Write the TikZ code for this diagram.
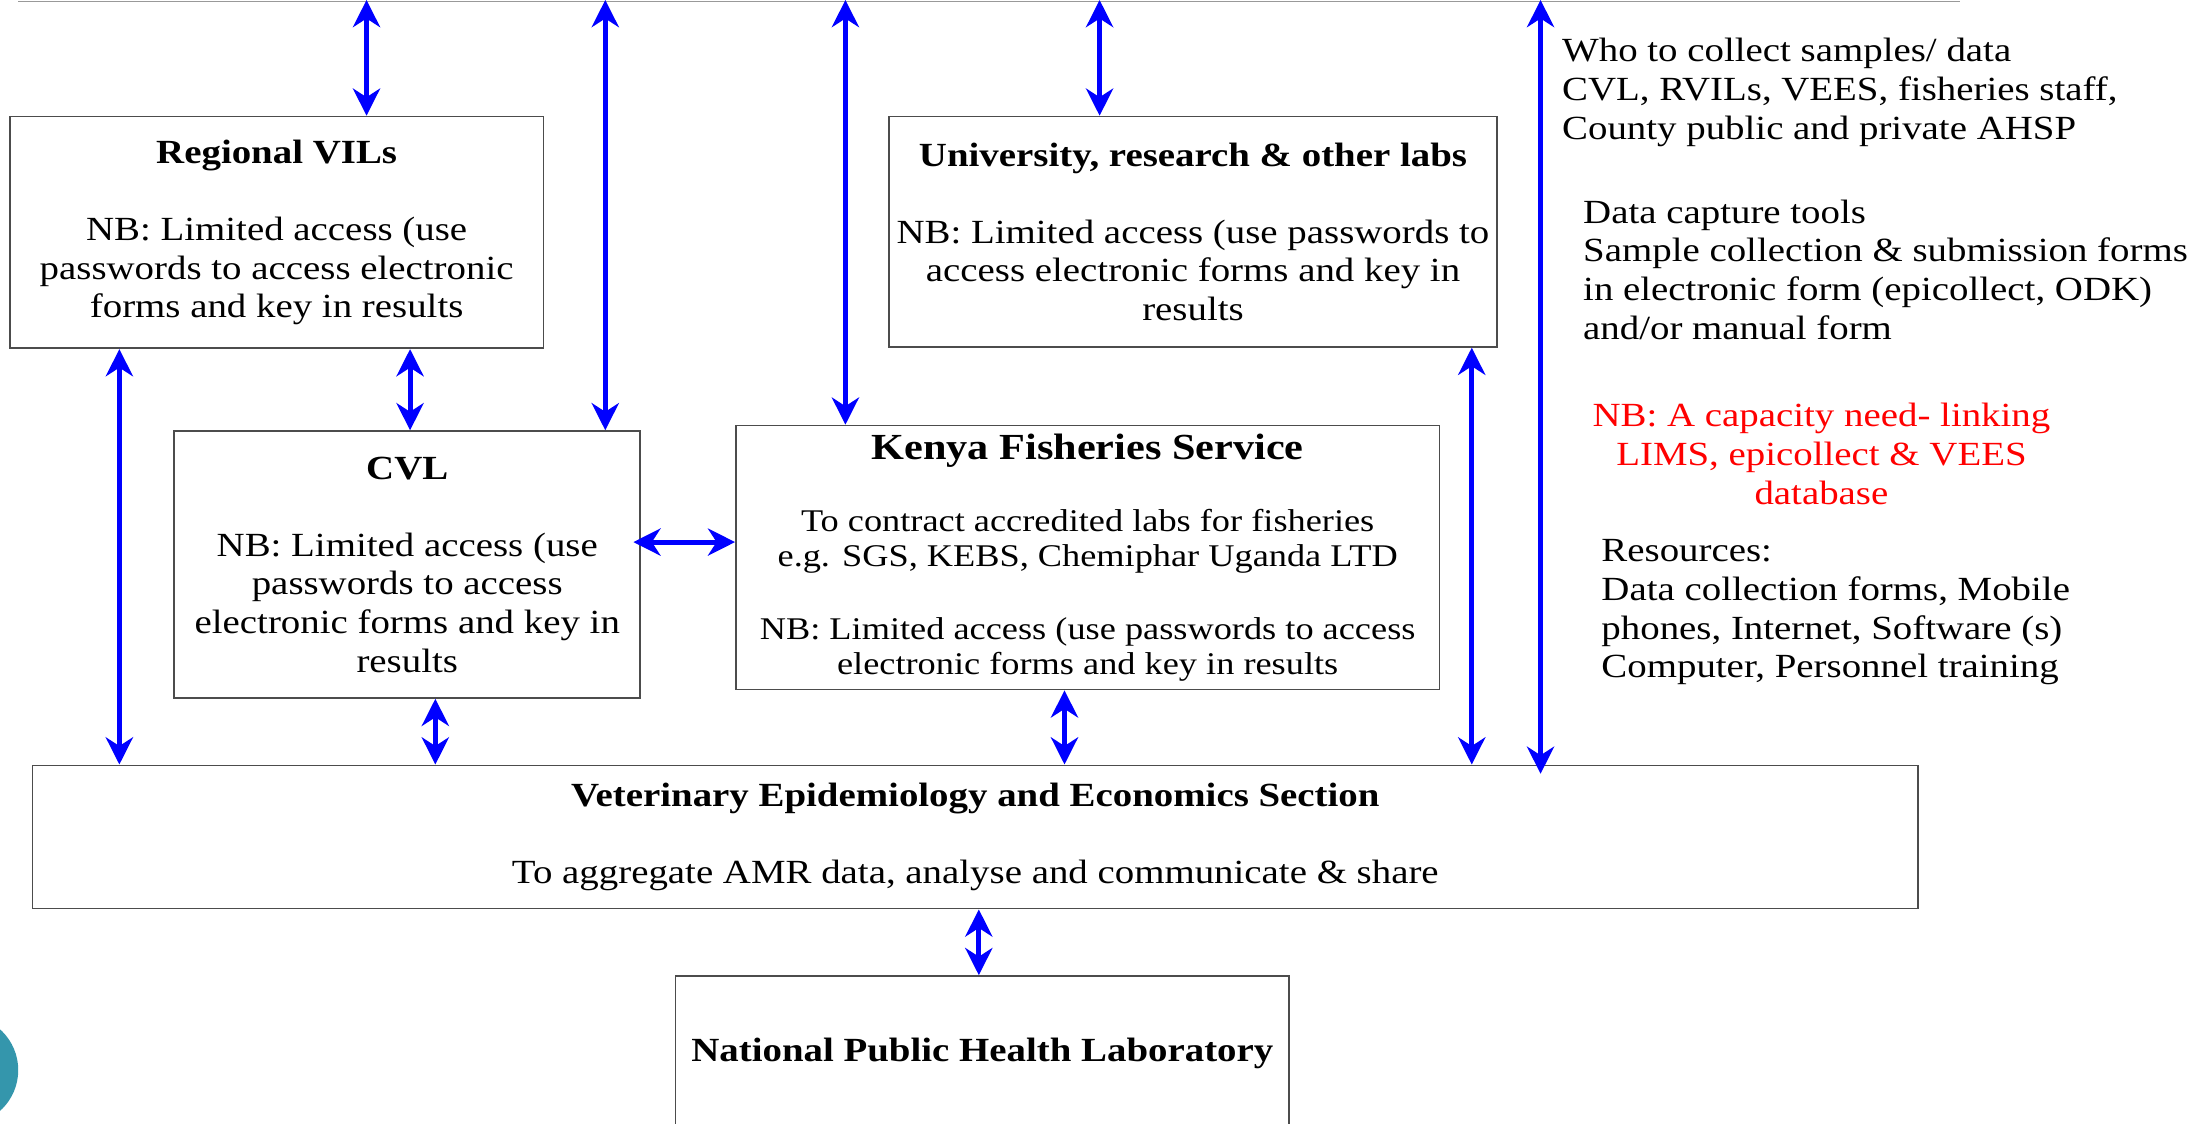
\documentclass[tikz,border=0pt]{standalone}
\usepackage{fontspec}
\setmainfont{Liberation Serif}[FakeStretch=1.15]
\usetikzlibrary{arrows.meta}
\definecolor{slideteal}{RGB}{52,150,172}

\begin{document}
\begin{tikzpicture}[x=0.02cm,y=-0.02cm]
\tikzstyle{every node}+=[inner sep=0pt, font=\fontsize{13.7}{15.65}\selectfont]
\tikzstyle{box}=[draw=black!70, line width=0.7pt, align=center]
\tikzstyle{link}=[blue, line width=2pt, {Stealth[length=11pt,width=11pt,inset=3.5pt]}-{Stealth[length=11pt,width=11pt,inset=3.5pt]}]
\tikzstyle{note}=[align=left, anchor=north west]
\useasboundingbox (0,0) rectangle (1568,800);
\clip (0,0) rectangle (1568,800);
\fill [slideteal] (-26,762) circle [radius=0.78cm];
\draw [black!40, line width=0.5pt] (13,1) -- (1396,1);
\node [box, minimum width=7.6cm, minimum height=3.3cm] (rvil) at (197,165.5)
  {\textbf{Regional VILs}\\[\baselineskip]NB: Limited access (use\\passwords to access electronic\\forms and key in results};
\node [box, minimum width=8.66cm, minimum height=3.28cm] (univ) at (849.5,165)
  {\textbf{University, research \& other labs}\\[\baselineskip]NB: Limited access (use passwords to\\access electronic forms and key in\\results};
\node [box, minimum width=6.64cm, minimum height=3.8cm] (cvl) at (290,402)
  {\textbf{CVL}\\[\baselineskip]NB: Limited access (use\\passwords to access\\electronic forms and key in\\results};
\node [box, minimum width=10.02cm, minimum height=3.76cm, font=\fontsize{12.8}{14.2}\selectfont] (kfs) at (774.5,397)
  {{\fontsize{14.9}{14.2}\selectfont\bfseries Kenya Fisheries Service}\\[15.3pt]To contract accredited labs for fisheries\\e.g. SGS, KEBS, Chemiphar Uganda LTD\\[15.3pt]NB: Limited access (use passwords to access\\electronic forms and key in results};
\node [box, minimum width=26.86cm, minimum height=2.04cm] (vees) at (694.5,596)
  {\textbf{Veterinary Epidemiology and Economics Section}\\[\baselineskip]To aggregate AMR data, analyse and communicate \& share};
\node [box, minimum width=8.74cm, minimum height=2.2cm] (nphl) at (699.5,750)
  {\textbf{National Public Health Laboratory}};
\node [note] (who) at (1112,27) {Who to collect samples/ data\\CVL, RVILs, VEES, fisheries staff,\\County public and private AHSP};
\node [note] (tools) at (1127,142) {Data capture tools\\Sample collection \& submission forms\\in electronic form (epicollect, ODK)\\and/or manual form};
\node [align=center, anchor=north, red] (need) at (1297,287) {NB: A capacity need- linking\\LIMS, epicollect \& VEES\\database};
\node [note] (res) at (1140,384) {Resources:\\Data collection forms, Mobile\\phones, Internet, Software (s)\\Computer, Personnel training};
\coordinate (t1) at (261,0);
\coordinate (t2) at (431,0);
\coordinate (t3) at (602,0);
\coordinate (t4) at (783,0);
\coordinate (t5) at (1097,0);
\coordinate (v5) at (1097,551);
\coordinate (c1) at (85,0);
\coordinate (c2) at (292,0);
\coordinate (c3) at (310,0);
\coordinate (c4) at (758,0);
\coordinate (c5) at (1048,0);
\coordinate (c6) at (697,0);
\coordinate (h) at (451,386);
\draw [link] (t1) -- (t1 |- rvil.north);
\draw [link] (t2) -- (t2 |- cvl.north);
\draw [link] (t3) -- (t3 |- kfs.north);
\draw [link] (t4) -- (t4 |- univ.north);
\draw [link] (t5) -- (v5);
\draw [link] (rvil.south -| c1) -- (vees.north -| c1);
\draw [link] (rvil.south -| c2) -- (cvl.north -| c2);
\draw [link] (cvl.south -| c3) -- (vees.north -| c3);
\draw [link] (kfs.south -| c4) -- (vees.north -| c4);
\draw [link] (univ.south -| c5) -- (vees.north -| c5);
\draw [link] (h) -- (h -| kfs.west);
\draw [link] (vees.south -| c6) -- (nphl.north -| c6);
\end{tikzpicture}
\end{document}
